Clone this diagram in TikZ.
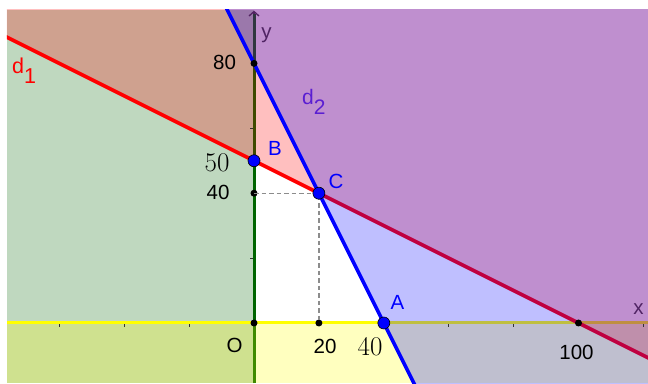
\documentclass[tikz,border=0pt]{standalone}
\usepackage{fontspec}
\newfontfamily\lsans{Liberation Sans}
\usetikzlibrary{arrows.meta}
\definecolor{ggreen}{RGB}{0,100,0}
\definecolor{gyellow}{RGB}{255,255,0}
\definecolor{gred}{RGB}{255,0,0}
\definecolor{gblue}{RGB}{0,0,255}
\definecolor{axisgrey}{RGB}{64,64,64}
\definecolor{dtwo}{RGB}{90,30,210}
\definecolor{axlab}{RGB}{80,36,100}
\definecolor{dashgrey}{RGB}{140,140,140}
\tikzset{
  bpt/.style={circle, fill=black, inner sep=0pt, minimum size=7pt},
  apt/.style={circle, fill=gblue, draw=black, line width=0.6pt, inner sep=0pt, minimum size=12pt},
  sanslab/.style={inner sep=0pt, font=\lsans\fontsize{20.5}{24}\selectfont},
  seriflab/.style={inner sep=0pt, font=\fontsize{27}{30}\selectfont},
  tickline/.style={draw=black!80, line width=0.9pt},
  halfplane/.style={fill opacity=0.25},
}
\def\xl{-76.12}
\def\xr{121.42}
\def\yt{96.46}
\def\yb{-18.49}
\begin{document}
\begin{tikzpicture}[x=3.245pt,y=3.245pt]
\useasboundingbox (0pt,0pt) rectangle (648pt,383pt);
\begin{scope}[shift={(254pt,60pt)}]
\begin{scope}
\clip (\xl,\yb) rectangle (\xr,\yt);
\fill[white] (\xl,\yb) rectangle (\xr,\yt);
% x<0 region
\fill[ggreen, halfplane] (\xl,\yb) rectangle (0,\yt);
% y-axis arrow
\coordinate (ytop) at (0,\yt-0.2);
\coordinate (ybot) at (0,\yb);
\draw[axisgrey, line width=1.5pt, -{Straight Barb[length=4.5pt,width=10pt,line width=1.3pt]}] (ybot) -- (ytop);
\draw[ggreen, line width=3pt] (ybot) -- (0,\yt-1.2);
% y<0 region
\fill[gyellow, halfplane] (\xl,\yb) rectangle (\xr,0);
\coordinate (xleft) at (\xl,0);
\coordinate (xright) at (\xr,0);
\draw[gyellow, line width=3pt] (xleft) -- (xright);
% x+2y>100
\fill[gred, halfplane] (-80,90) -- (125,-12.5) -- (125,100) -- (-80,100) -- cycle;
\coordinate (d1a) at (-80,90);
\coordinate (d1b) at (125,-12.5);
\draw[gred, line width=3.6pt] (d1a) -- (d1b);
% 2x+y>80
\fill[gblue, halfplane] (-10,100) -- (52,-24) -- (125,-24) -- (125,100) -- cycle;
\coordinate (d2a) at (-10,100);
\coordinate (d2b) at (52,-24);
\draw[gblue, line width=3.5pt] (d2a) -- (d2b);
\end{scope}
% ticks
\foreach \t in {-60,-40,-20,60,80,120} \draw[tickline] (\t,-0.35) -- (\t,-1.3);
\foreach \t in {20,60} \draw[tickline] (-0.35,\t) -- (-1.3,\t);
% points
\node[bpt] (P80) at (0,80) {};
\node[bpt] (P40) at (0,40) {};
\node[bpt] (O) at (0,0) {};
\node[bpt] (P20) at (20,0) {};
\node[bpt] (P100) at (100,0) {};
\draw[dashgrey, line width=1.2pt, dash pattern=on 4.5pt off 3pt] (P40.center) -- (20,40) -- (P20.center);
\node[apt] (B) at (0,50) {};
\node[apt] (C) at (20,40) {};
\node[apt] (A) at (40,0) {};
% labels
\node[sanslab] (l80) at (-9.09,80.28) {80};
\node[seriflab] (l50) at (-11.40,49.31) {50};
\node[sanslab] (l40y) at (-11.09,40.37) {40};
\node[sanslab] (lO) at (-6.01,-6.78) {O};
\node[sanslab] (l20) at (21.88,-7.24) {20};
\node[seriflab] (l40x) at (35.75,-7.40) {40};
\node[sanslab] (l100) at (99.38,-8.94) {100};
\node[sanslab, text=gblue] (lA) at (44.22,6.47) {A};
\node[sanslab, text=gblue] (lB) at (6.47,53.78) {B};
\node[sanslab, text=gblue] (lC) at (25.27,43.61) {C};
\node[sanslab, text=axlab] (lx) at (118.49,4.16) {x};
\node[sanslab, text=axlab] (ly) at (3.85,88.75) {y};
\node[sanslab, text=gred, anchor=base west, font=\lsans\fontsize{21.5}{24}\selectfont] (ld1) at (-74.58,77.04) {d\raisebox{-10pt}{1}};
\node[sanslab, text=dtwo, anchor=base west, font=\lsans\fontsize{21}{24}\selectfont] (ld2) at (14.79,67.18) {d\raisebox{-10pt}{2}};
\end{scope}
\end{tikzpicture}
\end{document}
